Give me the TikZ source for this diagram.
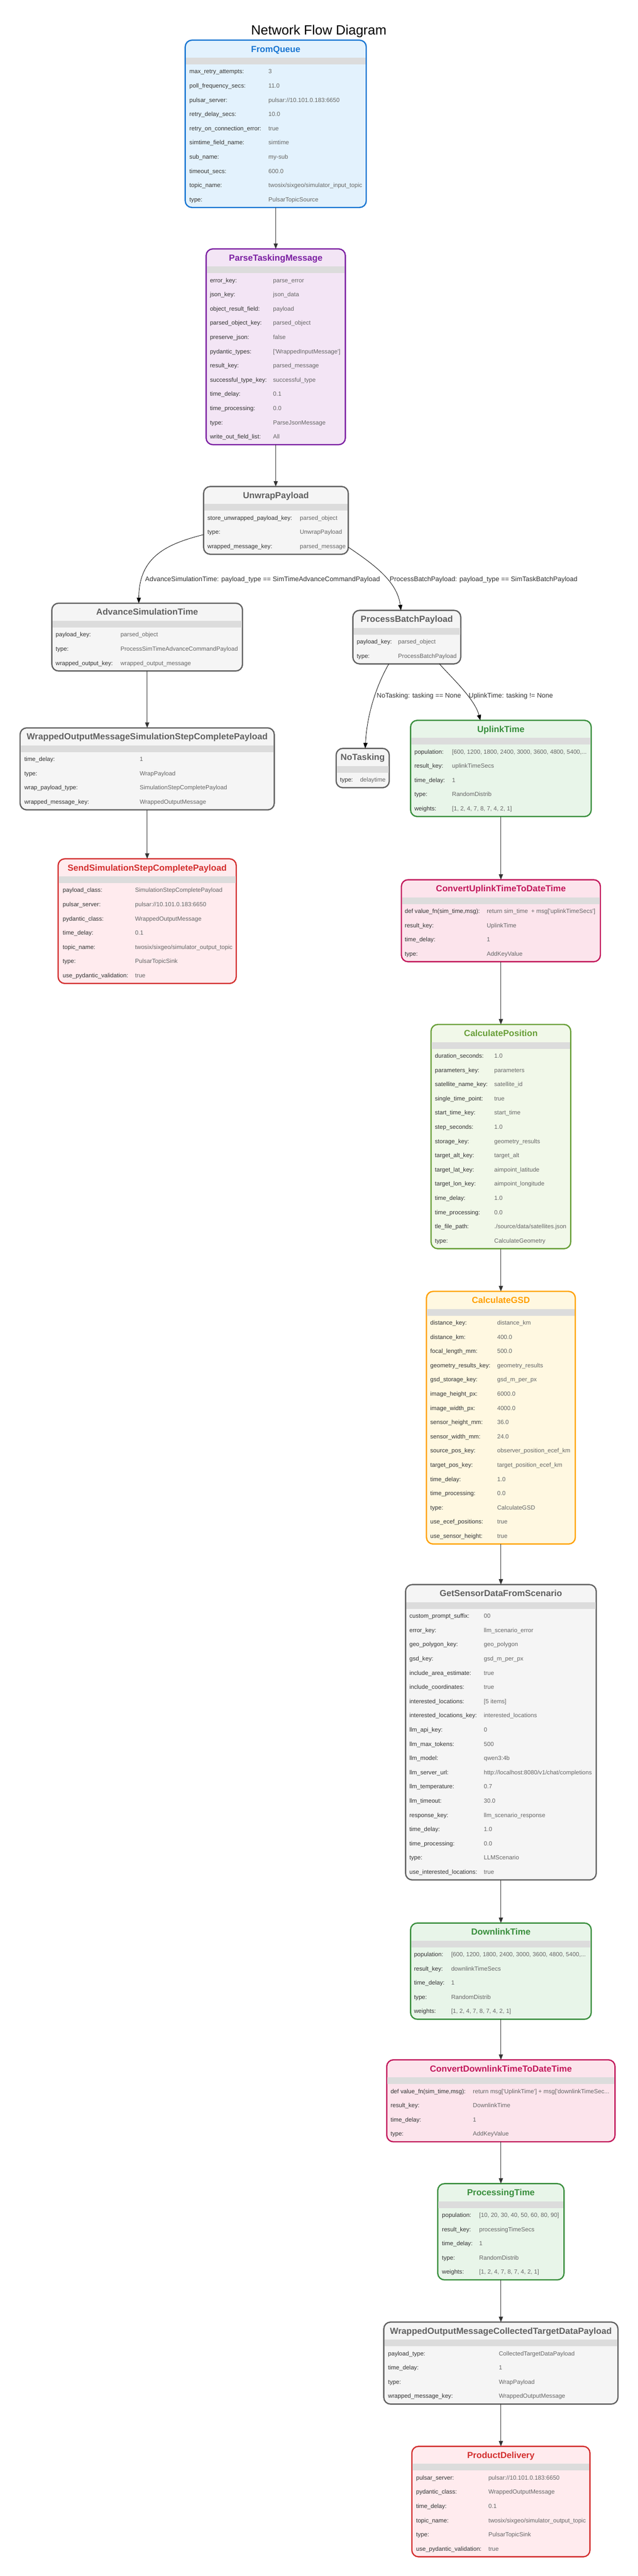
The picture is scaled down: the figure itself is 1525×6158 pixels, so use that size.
\documentclass[tikz,border=0pt]{standalone}
\usepackage{fontspec}
\setmainfont{Liberation Sans}[Ligatures=TeXOff]
\usetikzlibrary{arrows.meta}
\definecolor{blueline}{HTML}{1976D2}\definecolor{bluefill}{HTML}{E3F2FD}
\definecolor{purpleline}{HTML}{7B1FA2}\definecolor{purplefill}{HTML}{F3E5F5}
\definecolor{grayline}{HTML}{616161}\definecolor{grayfill}{HTML}{F5F5F5}
\definecolor{redline}{HTML}{D32F2F}\definecolor{redfill}{HTML}{FFEBEE}
\definecolor{greenline}{HTML}{388E3C}\definecolor{greenfill}{HTML}{E8F5E9}
\definecolor{pinkline}{HTML}{C2185B}\definecolor{pinkfill}{HTML}{FCE4EC}
\definecolor{limeline}{HTML}{689F38}\definecolor{limefill}{HTML}{F1F8E9}
\definecolor{amberline}{HTML}{FFA000}\definecolor{amberfill}{HTML}{FFF8E1}
\definecolor{bandc}{HTML}{DCDCDC}
\definecolor{labc}{HTML}{333333}\definecolor{valc}{HTML}{666666}
\definecolor{edgec}{HTML}{333333}
\tikzset{
 panel/.style={rectangle, rounded corners=16pt, line width=3pt, inner sep=0pt, outer sep=0pt},
 ptitle/.style={anchor=base, inner sep=0pt, font=\bfseries\fontsize{21}{25}\selectfont},
 lab/.style={anchor=base west, inner sep=0pt, text=labc, font=\fontsize{14.3}{17}\selectfont},
 val/.style={anchor=base west, inner sep=0pt, text=valc, font=\fontsize{14.3}{17}\selectfont},
 flow/.style={draw=edgec, line width=1.5pt, -{Triangle[length=13pt,width=10pt]}},
 cflow/.style={draw=black, line width=1pt, -{Triangle[length=13pt,width=10pt]}},
 elab/.style={anchor=base west, inner sep=0pt, text=labc, font=\fontsize{16}{19}\selectfont},
}
% #1 name #2 x1 #3 x2 #4 top #5 rows #6 colour #7 title #8 label x #9 value x
\newcommand{\Panel}[9]{%
  \pgfmathsetmacro{\pH}{60+34*#5}%
  \pgfmathsetmacro{\pW}{#3-#2}%
  \pgfmathsetmacro{\pCX}{(#2+#3)/2}%
  \pgfmathsetmacro{\pCY}{#4+\pH/2}%
  \node[panel, draw=#6line, fill=#6fill, minimum width=\pW pt, minimum height=\pH pt] (#1) at (\pCX,\pCY) {};
  \fill[bandc] ({#2+1.5},{#4+42}) rectangle ({#3-1.5},{#4+58});
  \node[ptitle, text=#6line] (#1-title) at (\pCX,{#4+28.5}) {#7};
  \xdef\pName{#1}\xdef\lX{#8}\xdef\vX{#9}%
  \pgfmathsetmacro{\tmpY}{#4+80}\xdef\rY{\tmpY}%
}
\newcommand{\R}[3]{%
  \node[lab] (\pName-l#1) at (\lX,{\rY+34*(#1-1)}) {#2};
  \node[val] (\pName-v#1) at (\vX,{\rY+34*(#1-1)}) {#3};
}
\begin{document}
\begin{tikzpicture}[x=1pt,y=-1pt]
\fill[white] (0,0) rectangle (1525,6158);
\useasboundingbox (0,0) rectangle (1525,6158);
\node[anchor=base, inner sep=0pt, font=\fontsize{32}{38}\selectfont] (maintitle) at (762.5,83.5) {Network Flow Diagram};

% FromQueue
\Panel{fromq}{443}{876}{96}{10}{blue}{FromQueue}{453}{642}
\R{1}{max\_retry\_attempts:}{3}
\R{2}{poll\_frequency\_secs:}{11.0}
\R{3}{pulsar\_server:}{pulsar://10.101.0.183:6650}
\R{4}{retry\_delay\_secs:}{10.0}
\R{5}{retry\_on\_connection\_error:}{true}
\R{6}{simtime\_field\_name:}{simtime}
\R{7}{sub\_name:}{my-sub}
\R{8}{timeout\_secs:}{600.0}
\R{9}{topic\_name:}{twosix/sixgeo/simulator\_input\_topic}
\R{10}{type:}{PulsarTopicSource}

% ParseTaskingMessage
\Panel{parse}{493}{826}{595}{12}{purple}{ParseTaskingMessage}{502}{653}
\R{1}{error\_key:}{parse\_error}
\R{2}{json\_key:}{json\_data}
\R{3}{object\_result\_field:}{payload}
\R{4}{parsed\_object\_key:}{parsed\_object}
\R{5}{preserve\_json:}{false}
\R{6}{pydantic\_types:}{['WrappedInputMessage']}
\R{7}{result\_key:}{parsed\_message}
\R{8}{successful\_type\_key:}{successful\_type}
\R{9}{time\_delay:}{0.1}
\R{10}{time\_processing:}{0.0}
\R{11}{type:}{ParseJsonMessage}
\R{12}{write\_out\_field\_list:}{All}

% UnwrapPayload
\Panel{unwrap}{487}{833}{1163}{3}{gray}{UnwrapPayload}{496}{717}
\R{1}{store\_unwrapped\_payload\_key:}{parsed\_object}
\R{2}{type:}{UnwrapPayload}
\R{3}{wrapped\_message\_key:}{parsed\_message}

% AdvanceSimulationTime
\Panel{advsim}{124}{580}{1442}{3}{gray}{AdvanceSimulationTime}{133}{288}
\R{1}{payload\_key:}{parsed\_object}
\R{2}{type:}{ProcessSimTimeAdvanceCommandPayload}
\R{3}{wrapped\_output\_key:}{wrapped\_output\_message}

% ProcessBatchPayload
\Panel{pbatch}{844}{1102}{1459}{2}{gray}{ProcessBatchPayload}{853}{952}
\R{1}{payload\_key:}{parsed\_object}
\R{2}{type:}{ProcessBatchPayload}

% WrappedOutputMessageSimulationStepCompletePayload
\Panel{wsim}{48}{656}{1740}{4}{gray}{WrappedOutputMessageSimulationStepCompletePayload}{58}{334}
\R{1}{time\_delay:}{1}
\R{2}{type:}{WrapPayload}
\R{3}{wrap\_payload\_type:}{SimulationStepCompletePayload}
\R{4}{wrapped\_message\_key:}{WrappedOutputMessage}

% SendSimulationStepCompletePayload
\Panel{sendsim}{139}{565}{2053}{7}{red}{SendSimulationStepCompletePayload}{150}{323}
\R{1}{payload\_class:}{SimulationStepCompletePayload}
\R{2}{pulsar\_server:}{pulsar://10.101.0.183:6650}
\R{3}{pydantic\_class:}{WrappedOutputMessage}
\R{4}{time\_delay:}{0.1}
\R{5}{topic\_name:}{twosix/sixgeo/simulator\_output\_topic}
\R{6}{type:}{PulsarTopicSink}
\R{7}{use\_pydantic\_validation:}{true}

% NoTasking
\Panel{notask}{804}{931}{1789}{1}{gray}{NoTasking}{813}{861}
\R{1}{type:}{delaytime}

% UplinkTime
\Panel{uplink}{982}{1414}{1722}{5}{green}{UplinkTime}{991}{1081}
\R{1}{population:}{[600, 1200, 1800, 2400, 3000, 3600, 4800, 5400,...}
\R{2}{result\_key:}{uplinkTimeSecs}
\R{3}{time\_delay:}{1}
\R{4}{type:}{RandomDistrib}
\R{5}{weights:}{[1, 2, 4, 7, 8, 7, 4, 2, 1]}

% ConvertUplinkTimeToDateTime
\Panel{convup}{960}{1436}{2103}{4}{pink}{ConvertUplinkTimeToDateTime}{968}{1164}
\R{1}{def value\_fn(sim\_time,msg):}{return sim\_time\ \ + msg['uplinkTimeSecs']}
\R{2}{result\_key:}{UplinkTime}
\R{3}{time\_delay:}{1}
\R{4}{type:}{AddKeyValue}

% CalculatePosition
\Panel{calcpos}{1031}{1365}{2449}{14}{lime}{CalculatePosition}{1040}{1182}
\R{1}{duration\_seconds:}{1.0}
\R{2}{parameters\_key:}{parameters}
\R{3}{satellite\_name\_key:}{satellite\_id}
\R{4}{single\_time\_point:}{true}
\R{5}{start\_time\_key:}{start\_time}
\R{6}{step\_seconds:}{1.0}
\R{7}{storage\_key:}{geometry\_results}
\R{8}{target\_alt\_key:}{target\_alt}
\R{9}{target\_lat\_key:}{aimpoint\_latitude}
\R{10}{target\_lon\_key:}{aimpoint\_longitude}
\R{11}{time\_delay:}{1.0}
\R{12}{time\_processing:}{0.0}
\R{13}{tle\_file\_path:}{./source/data/satellites.json}
\R{14}{type:}{CalculateGeometry}

% CalculateGSD
\Panel{gsd}{1020}{1376}{3087}{16}{amber}{CalculateGSD}{1029}{1189}
\R{1}{distance\_key:}{distance\_km}
\R{2}{distance\_km:}{400.0}
\R{3}{focal\_length\_mm:}{500.0}
\R{4}{geometry\_results\_key:}{geometry\_results}
\R{5}{gsd\_storage\_key:}{gsd\_m\_per\_px}
\R{6}{image\_height\_px:}{6000.0}
\R{7}{image\_width\_px:}{4000.0}
\R{8}{sensor\_height\_mm:}{36.0}
\R{9}{sensor\_width\_mm:}{24.0}
\R{10}{source\_pos\_key:}{observer\_position\_ecef\_km}
\R{11}{target\_pos\_key:}{target\_position\_ecef\_km}
\R{12}{time\_delay:}{1.0}
\R{13}{time\_processing:}{0.0}
\R{14}{type:}{CalculateGSD}
\R{15}{use\_ecef\_positions:}{true}
\R{16}{use\_sensor\_height:}{true}

% GetSensorDataFromScenario
\Panel{getsensor}{970}{1426}{3788}{19}{gray}{GetSensorDataFromScenario}{979}{1157}
\R{1}{custom\_prompt\_suffix:}{00}
\R{2}{error\_key:}{llm\_scenario\_error}
\R{3}{geo\_polygon\_key:}{geo\_polygon}
\R{4}{gsd\_key:}{gsd\_m\_per\_px}
\R{5}{include\_area\_estimate:}{true}
\R{6}{include\_coordinates:}{true}
\R{7}{interested\_locations:}{[5 items]}
\R{8}{interested\_locations\_key:}{interested\_locations}
\R{9}{llm\_api\_key:}{0}
\R{10}{llm\_max\_tokens:}{500}
\R{11}{llm\_model:}{qwen3:4b}
\R{12}{llm\_server\_url:}{http://localhost:8080/v1/chat/completions}
\R{13}{llm\_temperature:}{0.7}
\R{14}{llm\_timeout:}{30.0}
\R{15}{response\_key:}{llm\_scenario\_response}
\R{16}{time\_delay:}{1.0}
\R{17}{time\_processing:}{0.0}
\R{18}{type:}{LLMScenario}
\R{19}{use\_interested\_locations:}{true}

% DownlinkTime
\Panel{downlink}{982}{1414}{4597}{5}{green}{DownlinkTime}{990}{1079}
\R{1}{population:}{[600, 1200, 1800, 2400, 3000, 3600, 4800, 5400,...}
\R{2}{result\_key:}{downlinkTimeSecs}
\R{3}{time\_delay:}{1}
\R{4}{type:}{RandomDistrib}
\R{5}{weights:}{[1, 2, 4, 7, 8, 7, 4, 2, 1]}

% ConvertDownlinkTimeToDateTime
\Panel{convdown}{925}{1471}{4924}{4}{pink}{ConvertDownlinkTimeToDateTime}{934}{1131}
\R{1}{def value\_fn(sim\_time,msg):}{return msg['UplinkTime'] + msg['downlinkTimeSec...}
\R{2}{result\_key:}{DownlinkTime}
\R{3}{time\_delay:}{1}
\R{4}{type:}{AddKeyValue}

% ProcessingTime
\Panel{proc}{1047}{1349}{5220}{5}{green}{ProcessingTime}{1057}{1146}
\R{1}{population:}{[10, 20, 30, 40, 50, 60, 80, 90]}
\R{2}{result\_key:}{processingTimeSecs}
\R{3}{time\_delay:}{1}
\R{4}{type:}{RandomDistrib}
\R{5}{weights:}{[1, 2, 4, 7, 8, 7, 4, 2, 1]}

% WrappedOutputMessageCollectedTargetDataPayload
\Panel{wcoll}{918}{1478}{5551}{4}{gray}{WrappedOutputMessageCollectedTargetDataPayload}{928}{1193}
\R{1}{payload\_type:}{CollectedTargetDataPayload}
\R{2}{time\_delay:}{1}
\R{3}{type:}{WrapPayload}
\R{4}{wrapped\_message\_key:}{WrappedOutputMessage}

% ProductDelivery
\Panel{product}{985}{1411}{5848}{6}{red}{ProductDelivery}{995}{1168}
\R{1}{pulsar\_server:}{pulsar://10.101.0.183:6650}
\R{2}{pydantic\_class:}{WrappedOutputMessage}
\R{3}{time\_delay:}{0.1}
\R{4}{topic\_name:}{twosix/sixgeo/simulator\_output\_topic}
\R{5}{type:}{PulsarTopicSink}
\R{6}{use\_pydantic\_validation:}{true}

% straight connectors
\draw[flow] (fromq.south) -- (fromq.south |- parse.north);
\draw[flow] (parse.south) -- (parse.south |- unwrap.north);
\draw[flow] (advsim.south) -- (advsim.south |- wsim.north);
\draw[flow] (wsim.south) -- (wsim.south |- sendsim.north);
\draw[flow] (uplink.south) -- (uplink.south |- convup.north);
\draw[flow] (convup.south) -- (convup.south |- calcpos.north);
\draw[flow] (calcpos.south) -- (calcpos.south |- gsd.north);
\draw[flow] (gsd.south) -- (gsd.south |- getsensor.north);
\draw[flow] (getsensor.south) -- (getsensor.south |- downlink.north);
\draw[flow] (downlink.south) -- (downlink.south |- convdown.north);
\draw[flow] (convdown.south) -- (convdown.south |- proc.north);
\draw[flow] (proc.south) -- (proc.south |- wcoll.north);
\draw[flow] (wcoll.south) -- (wcoll.south |- product.north);

% curved connectors
\draw[cflow] ([yshift=-34pt]unwrap.west) .. controls (400,1300) and (332,1330) .. ([xshift=-20pt]advsim.north);
\draw[cflow] ([yshift=-64pt]unwrap.east) .. controls (895,1350) and (950,1390) .. ([xshift=-14pt]pbatch.north);
\draw[cflow] ([xshift=-43pt]pbatch.south) .. controls (905,1630) and (878,1700) .. ([xshift=6pt]notask.north);
\draw[cflow] ([xshift=78pt]pbatch.south) .. controls (1080,1620) and (1135,1670) .. ([xshift=-49pt]uplink.north);

% edge labels
\node[elab] (lbl-adv) at (347,1389.5) {AdvanceSimulationTime: payload\_type == SimTimeAdvanceCommandPayload};
\node[elab] (lbl-batch) at (932,1389.5) {ProcessBatchPayload: payload\_type == SimTaskBatchPayload};
\node[elab] (lbl-notask) at (901,1668.5) {NoTasking: tasking == None};
\node[elab] (lbl-uplink) at (1121,1668.5) {UplinkTime: tasking != None};
\end{tikzpicture}
\end{document}
